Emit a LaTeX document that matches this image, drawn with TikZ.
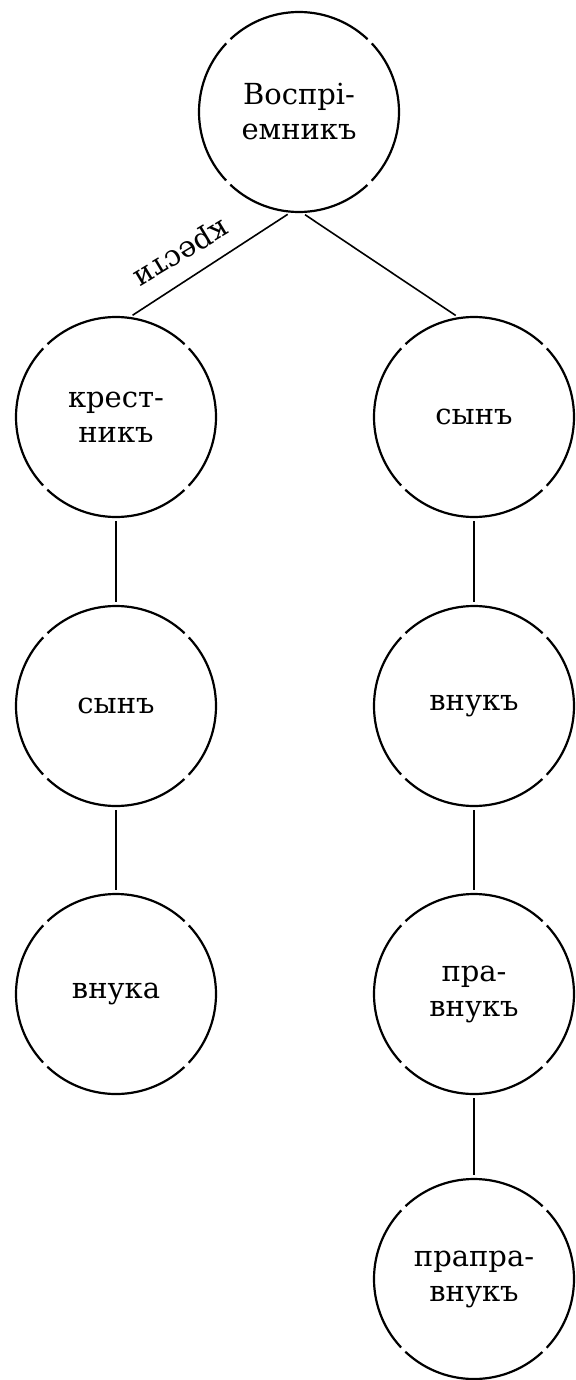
\documentclass[tikz,border=0pt]{standalone}
\usepackage{fontspec}
\setmainfont{DejaVu Serif}
\begin{document}
\begin{tikzpicture}[x=0.5pt,y=-0.5pt,
  person/.style={circle, draw, minimum size=100pt, inner sep=0pt, line width=1.1pt,
    dash pattern=on 75.5pt off 3pt, dash phase=37.73pt,
    align=center, font=\fontsize{14.5}{17.5}\selectfont},
  link/.style={line width=0.8pt, shorten <=1.5pt, shorten >=1.5pt},
  edgelabel/.style={font=\fontsize{14.5}{17.5}\selectfont, inner sep=0pt}]
\useasboundingbox (0,0) rectangle (575,1380);
\node[person] (top) at (299,112) {Воспрі-\\емникъ};
\node[person] (kr) at (116,417) {крест-\\никъ};
\node[person] (ls) at (116,706) {сынъ};
\node[person] (lv) at (116,994) {внука};
\node[person] (rs) at (474,417) {сынъ};
\node[person] (rv) at (474,706) {внукъ};
\node[person] (rp) at (474,994) {пра-\\внукъ};
\node[person] (rpp) at (474,1279) {прапра-\\внукъ};
\draw[link] (top.265) -- (kr.82);
\draw[link] (top.272) -- (rs.99);
\draw[link] (kr) -- (ls);
\draw[link] (ls) -- (lv);
\draw[link] (rs) -- (rv);
\draw[link] (rv) -- (rp);
\draw[link] (rp) -- (rpp);
\node[edgelabel, rotate=211] (lbl) at (180,251) {крести};
\end{tikzpicture}
\end{document}
